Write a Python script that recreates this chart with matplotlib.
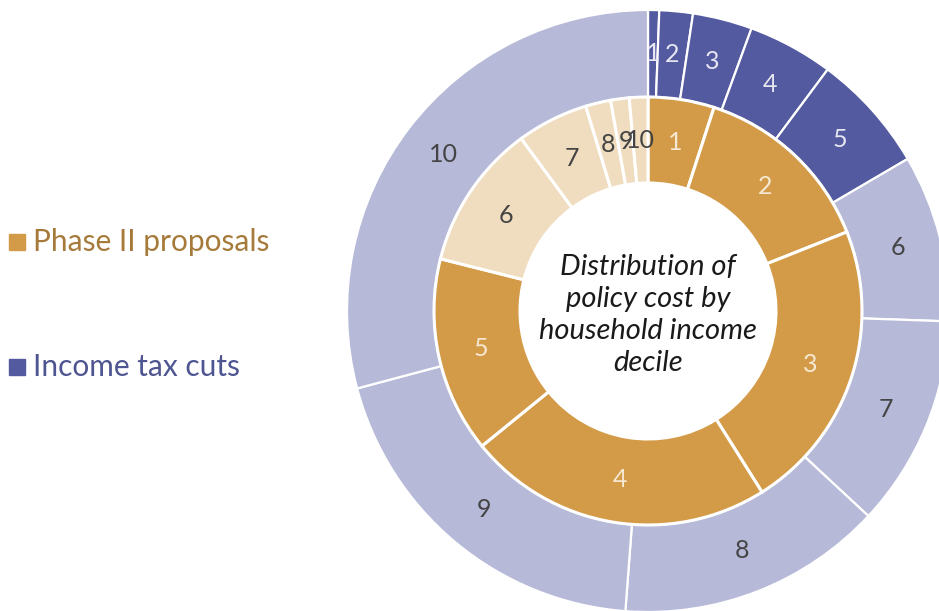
import numpy as np
import matplotlib
matplotlib.use("Agg")
import matplotlib.pyplot as plt
from matplotlib.patches import Rectangle

# share of policy cost by household income decile (%)
deciles = ["1", "2", "3", "4", "5", "6", "7", "8", "9", "10"]
income_tax_cuts = [0.6, 1.8, 3.2, 4.6, 6.4, 9.0, 11.4, 14.3, 19.7, 29.2]
phase_two = [5.0, 14.0, 22.1, 23.1, 14.8, 11.0, 5.4, 1.9, 1.4, 1.4]

series_names = ["Phase II proposals", "Income tax cuts"]
centre_text = "Distribution of\npolicy cost by\nhousehold income\ndecile"

blue_dark, blue_light = "#535A9F", "#B6B9D8"
gold_dark, gold_light = "#D39B48", "#F0DCBE"

plt.rcParams['font.family'] = ['Lato', 'DejaVu Sans']

fig = plt.figure(figsize=(9.39, 6.11), dpi=100)
ax = fig.add_axes([0, 0, 1, 1])

cx, cy = 648, 300
r_out, r_mid, r_in = 301, 214, 128

outer_colors = [blue_dark] * 5 + [blue_light] * 5
inner_colors = [gold_dark] * 5 + [gold_light] * 5

outer, _ = ax.pie(income_tax_cuts, radius=r_out, center=(cx, cy), startangle=90,
                  counterclock=False, colors=outer_colors,
                  wedgeprops=dict(width=r_out - r_mid, edgecolor='white', linewidth=1.6))
inner, _ = ax.pie(phase_two, radius=r_mid, center=(cx, cy), startangle=90,
                  counterclock=False, colors=inner_colors,
                  wedgeprops=dict(width=r_mid - r_in, edgecolor='white', linewidth=2.2))


def label_ring(wedges, r, colors):
    for w, lab, c in zip(wedges, deciles, colors):
        mid = np.deg2rad((w.theta1 + w.theta2) / 2)
        ax.text(cx + r * np.cos(mid), cy + r * np.sin(mid), lab, color=c,
                fontsize=18, ha='center', va='center')


label_ring(outer, (r_out + r_mid) / 2, ["#E6E7F2"] * 5 + ["#444444"] * 5)
label_ring(inner, (r_mid + r_in) / 2, ["#F6E8D2"] * 5 + ["#444444"] * 5)

ax.text(cx, cy - 4, centre_text, ha='center', va='center', fontsize=21,
        style='italic', color='#1a1a1a', linespacing=1.27)

# legend on the left
for name, sq, tc, y in [(series_names[0], gold_dark, "#A57A3A", 369),
                        (series_names[1], blue_dark, "#4E5590", 244)]:
    ax.add_patch(Rectangle((9, y - 8), 16, 16, color=sq))
    ax.text(33, y, name, color=tc, fontsize=21.5,
            ha='left', va='center')

ax.set_xlim(0, 939)
ax.set_ylim(0, 611)
ax.set_aspect('equal')
ax.axis('off')

plt.savefig("out.png", dpi=100)
